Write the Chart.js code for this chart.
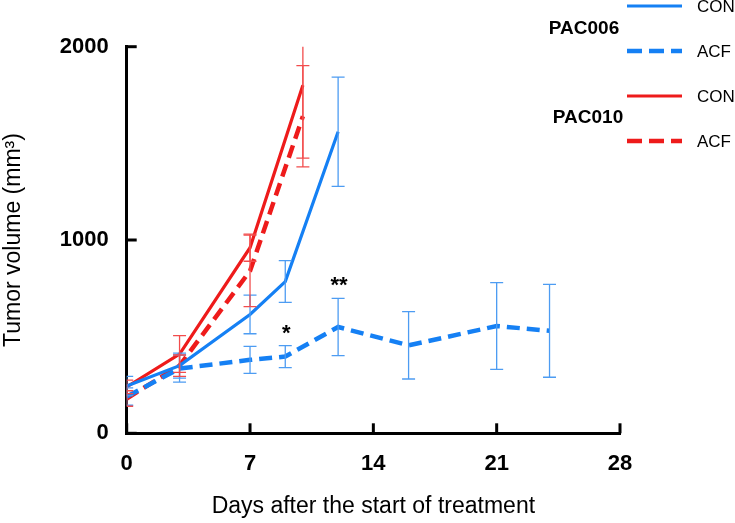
<!DOCTYPE html>
<html>
<head>
<meta charset="utf-8">
<script src="https://cdn.jsdelivr.net/npm/chart.js@4.4.1/dist/chart.umd.min.js"></script>
<style>
html,body{margin:0;padding:0;background:#fff}
canvas{display:block}
</style>
</head>
<body>
<canvas id="chart" width="735" height="523"></canvas>
<script>
// tick labels
const xTicks = [0, 7, 14, 21, 28];
const yTicks = [0, 1000, 2000];

// PAC006 (blue)
const days006Con = [0, 3, 7, 9, 12];
const pac006Con = [245, 350, 615, 785, 1560];
const pac006ConSd = [50, 65, 100, 108, 283];
const days006Acf = [0, 3, 7, 9, 12, 16, 21, 24];
const pac006Acf = [190, 335, 380, 397, 550, 455, 555, 530];
const pac006AcfSd = [45, 70, 70, 57, 148, 174, 224, 240];

// PAC010 (red)
const days010 = [0, 3, 7, 10];
const pac010Con = [240, 410, 960, 1800];
const pac010ConSd = [35, 95, 70, 376];
const pac010Acf = [180, 350, 840, 1640];
const pac010AcfSd = [40, 55, 185, 262];

// significance marks on PAC006 ACF
const starDays = [9, 12];
const starText = ['*', '**'];

const groupNames = ['PAC006', 'PAC010'];
const armNames = ['CON', 'ACF'];

const BLUE = '#1580f4';
const RED = '#ee1b1b';
const BLUE_ERR = '#4d9cf2';
const RED_ERR = '#f24c4c';
const FONT = '"Liberation Sans", Arial, Helvetica, sans-serif';

function pts(xs, ys){ return xs.map((x,i)=>({x:x, y:ys[i]})); }

const datasets = [
  {label:'PAC006 CON', data:pts(days006Con,pac006Con), sd:pac006ConSd, borderColor:BLUE, errColor:BLUE_ERR, borderWidth:3.2, borderDash:[]},
  {label:'PAC006 ACF', data:pts(days006Acf,pac006Acf), sd:pac006AcfSd, borderColor:BLUE, errColor:BLUE_ERR, borderWidth:4.5, borderDash:[13,7]},
  {label:'PAC010 CON', data:pts(days010,pac010Con), sd:pac010ConSd, borderColor:RED, errColor:RED_ERR, borderWidth:3.2, borderDash:[]},
  {label:'PAC010 ACF', data:pts(days010,pac010Acf), sd:pac010AcfSd, borderColor:RED, errColor:RED_ERR, borderWidth:4.5, borderDash:[13,7]}
];
datasets.forEach(d=>{ d.pointRadius=0; d.tension=0; d.fill=false; });

// error bars, drawn with the chart scales
const errorBars = {
  id:'errorBars',
  afterDatasetsDraw(chart){
    const {ctx, chartArea:a, scales:{x, y}} = chart;
    ctx.save();
    ctx.beginPath(); ctx.rect(a.left, a.top, a.right-a.left, a.bottom-a.top); ctx.clip();
    chart.data.datasets.forEach(ds=>{
      ctx.strokeStyle = ds.errColor; ctx.lineWidth = 1.3; ctx.setLineDash([]);
      ds.data.forEach((p,i)=>{
        const px = x.getPixelForValue(p.x);
        const hi = y.getPixelForValue(p.y + ds.sd[i]);
        const lo = y.getPixelForValue(p.y - ds.sd[i]);
        ctx.beginPath();
        ctx.moveTo(px, hi); ctx.lineTo(px, lo);
        ctx.moveTo(px-6.5, hi); ctx.lineTo(px+6.5, hi);
        ctx.moveTo(px-6.5, lo); ctx.lineTo(px+6.5, lo);
        ctx.stroke();
      });
    });
    ctx.restore();

    // stars above ACF error bars
    const acf = chart.data.datasets[1];
    ctx.save();
    ctx.fillStyle = '#000'; ctx.font = 'bold 22px ' + FONT;
    ctx.textAlign = 'center'; ctx.textBaseline = 'alphabetic';
    starDays.forEach((d,k)=>{
      const i = acf.data.findIndex(p=>p.x===d);
      const p = acf.data[i];
      ctx.fillText(starText[k], x.getPixelForValue(d) + 1, y.getPixelForValue(p.y + acf.sd[i]) - 6);
    });
    ctx.restore();
  }
};

// inward tick marks
const innerTicks = {
  id:'innerTicks',
  afterDraw(chart){
    const {ctx, chartArea:a, scales:{x, y}} = chart;
    ctx.save();
    ctx.strokeStyle = '#000'; ctx.lineWidth = 3;
    xTicks.forEach(v=>{
      const px = x.getPixelForValue(v);
      ctx.beginPath(); ctx.moveTo(px, a.bottom); ctx.lineTo(px, a.bottom-10); ctx.stroke();
    });
    yTicks.forEach(v=>{
      const py = y.getPixelForValue(v);
      ctx.beginPath(); ctx.moveTo(a.left, py); ctx.lineTo(a.left+10, py); ctx.stroke();
    });
    ctx.restore();
  }
};

// grouped legend on the right
const groupLegend = {
  id:'groupLegend',
  afterDraw(chart){
    const ctx = chart.ctx;
    const rowY = [6, 51, 96, 141];
    const groupY = [29, 118];
    const groupX = [584, 588];
    ctx.save();
    chart.data.datasets.forEach((ds,i)=>{
      ctx.strokeStyle = ds.borderColor;
      ctx.lineWidth = ds.borderWidth;
      ctx.setLineDash(ds.borderDash.length ? [15,7] : []);
      ctx.beginPath(); ctx.moveTo(627, rowY[i]); ctx.lineTo(682, rowY[i]); ctx.stroke();
      ctx.setLineDash([]);
      ctx.fillStyle = '#000';
      ctx.font = '17px ' + FONT;
      ctx.textAlign = 'left'; ctx.textBaseline = 'middle';
      ctx.fillText(armNames[i % 2], 697, rowY[i] + 1);
    });
    ctx.font = 'bold 19px ' + FONT;
    ctx.textAlign = 'center';
    groupNames.forEach((g,k)=>ctx.fillText(g, groupX[k], groupY[k]));
    ctx.restore();
  }
};

new Chart(document.getElementById('chart'), {
  type:'line',
  data:{datasets:datasets},
  plugins:[errorBars, innerTicks, groupLegend],
  options:{
    responsive:false,
    animation:false,
    layout:{autoPadding:false, padding:{left:0, top:46.7, right:115, bottom:0}},
    plugins:{legend:{display:false}, tooltip:{enabled:false}},
    scales:{
      x:{
        type:'linear', min:0, max:28,
        afterBuildTicks:s=>{ s.ticks = xTicks.map(v=>({value:v})); },
        afterFit:s=>{ s.height = 89.7; },
        grid:{drawOnChartArea:false, drawTicks:false},
        border:{display:true, color:'#000', width:3},
        ticks:{color:'#000', font:{family:FONT, size:22, weight:'bold'}, padding:17, maxRotation:0, callback:v=>String(v)},
        title:{display:true, text:'Days after the start of treatment', color:'#000', font:{family:FONT, size:23}, padding:{top:0, bottom:3}}
      },
      y:{
        type:'linear', min:0, max:2000,
        afterBuildTicks:s=>{ s.ticks = yTicks.map(v=>({value:v})); },
        afterFit:s=>{ s.width = 126.7; },
        grid:{drawOnChartArea:false, drawTicks:false},
        border:{display:true, color:'#000', width:3},
        ticks:{color:'#000', font:{family:FONT, size:22, weight:'bold'}, padding:18, callback:v=>String(v)},
        title:{display:true, text:'Tumor volume (mm³)', color:'#000', font:{family:FONT, size:23}, padding:{top:0, bottom:0}}
      }
    }
  }
});
</script>
</body>
</html>
